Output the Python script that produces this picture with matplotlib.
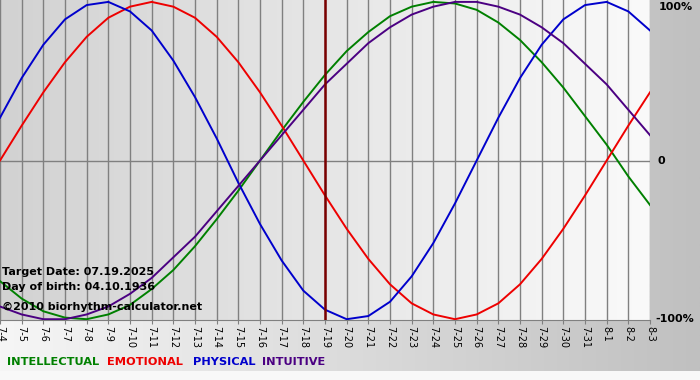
import numpy as np
import matplotlib
matplotlib.use('Agg')
import matplotlib.pyplot as plt
from matplotlib.colors import LinearSegmentedColormap
from matplotlib.patches import Rectangle

# days shown on the chart (7-4 .. 8-3)
dates = ['7-4', '7-5', '7-6', '7-7', '7-8', '7-9', '7-10', '7-11', '7-12', '7-13',
         '7-14', '7-15', '7-16', '7-17', '7-18', '7-19', '7-20', '7-21', '7-22', '7-23',
         '7-24', '7-25', '7-26', '7-27', '7-28', '7-29', '7-30', '7-31', '8-1', '8-2', '8-3']
target = '7-19'

# daily values (-1 .. 1)
physical = [0.27, 0.52, 0.73, 0.89, 0.98, 1.00, 0.94, 0.82, 0.63, 0.40, 0.14,
            -0.14, -0.40, -0.63, -0.82, -0.94, -1.00, -0.98, -0.89, -0.73, -0.52,
            -0.27, 0.00, 0.27, 0.52, 0.73, 0.89, 0.98, 1.00, 0.94, 0.82]
emotional = [0.00, 0.22, 0.43, 0.62, 0.78, 0.90, 0.97, 1.00, 0.97, 0.90, 0.78,
             0.62, 0.43, 0.22, 0.00, -0.22, -0.43, -0.62, -0.78, -0.90, -0.97,
             -1.00, -0.97, -0.90, -0.78, -0.62, -0.43, -0.22, 0.00, 0.22, 0.43]
intellectual = [-0.76, -0.87, -0.95, -0.99, -1.00, -0.97, -0.91, -0.81, -0.69, -0.54, -0.37,
                -0.19, 0.00, 0.19, 0.37, 0.54, 0.69, 0.81, 0.91, 0.97, 1.00,
                0.99, 0.95, 0.87, 0.76, 0.62, 0.46, 0.28, 0.10, -0.10, -0.28]
intuitive = [-0.92, -0.97, -1.00, -1.00, -0.97, -0.92, -0.84, -0.74, -0.61, -0.48, -0.32,
             -0.16, 0.00, 0.16, 0.32, 0.48, 0.61, 0.74, 0.84, 0.92, 0.97,
             1.00, 1.00, 0.97, 0.92, 0.84, 0.74, 0.61, 0.48, 0.32, 0.16]

legend_names = ['INTELLECTUAL', 'EMOTIONAL', 'PHYSICAL', 'INTUITIVE']
colors = ['#008000', '#ee0000', '#0000cc', '#4b0082']
series = [intellectual, emotional, physical, intuitive]

W, H = 700, 380
fig = plt.figure(figsize=(W / 100, H / 100), dpi=100)

# figure background: light on the left, grey on the right, white strip at bottom
bg = fig.add_axes([0, 0, 1, 1], zorder=-10)
bg_cmap = LinearSegmentedColormap.from_list('bg', ['#f6f6f6', '#c0c0c0'])
bg.imshow(np.linspace(0, 1, 256)[None, :], cmap=bg_cmap, aspect='auto',
          extent=[0, 1, 0, 1])
bg.add_patch(Rectangle((0, 0), 1, 9 / H, color='#f8f8f8', lw=0))
bg.set_xlim(0, 1)
bg.set_ylim(0, 1)
bg.axis('off')

x = np.arange(len(dates))
ax = fig.add_axes([0, 60 / H, 650 / W, 320 / H])
ax.patch.set_alpha(0)
plot_cmap = LinearSegmentedColormap.from_list('pl', ['#d2d2d2', '#fafafa'])
ax.imshow(np.linspace(0, 1, 256)[None, :], cmap=plot_cmap, aspect='auto',
          extent=[0, len(dates) - 1, -1.005, 1.012], zorder=0)

for xi in x:
    ax.axvline(xi, color='#808080', lw=1.0, zorder=1)
ax.axhline(0, color='#808080', lw=1.0, zorder=1)

for vals, c in zip(series, colors):
    ax.plot(x, vals, color=c, lw=1.4, zorder=3, solid_joinstyle='round')

ax.axvline(dates.index(target), color='#7a0000', lw=1.8, zorder=4)

ax.set_xlim(0, len(dates) - 1)
ax.set_ylim(-1.005, 1.012)
ax.set_xticks(x)
ax.set_xticklabels(dates, rotation=270, fontsize=7, ha='center', va='top')
ax.tick_params(axis='x', length=3, color='#808080', pad=1.5)
ax.set_yticks([])
for s in ['top', 'left', 'right']:
    ax.spines[s].set_visible(False)
ax.spines['bottom'].set_color('#808080')

# right-hand percentage labels
ytr = ax.get_yaxis_transform()
ax.text(1.013, 1, '100%', transform=ytr, fontsize=8, fontweight='bold',
        ha='left', va='top', clip_on=False)
ax.text(1.012, 0, '0', transform=ytr, fontsize=8, fontweight='bold',
        ha='left', va='center', clip_on=False)
ax.text(1.008, -1, '-100%', transform=ytr, fontsize=8, fontweight='bold',
        ha='left', va='center', clip_on=False)

# info text in the lower left
info = ['Target Date: 07.19.2025', 'Day of birth: 04.10.1936']
for i, t in enumerate(info):
    fig.text(2 / W, 1 - (272 + 15 * i) / H, t, fontsize=8, fontweight='bold',
             ha='left', va='center', zorder=5)
fig.text(2 / W, 1 - 307 / H, '\u00a92010 biorhythm-calculator.net', fontsize=8,
         fontweight='bold', ha='left', va='center', zorder=5)

# legend as coloured words
legend_x = [7, 107, 193, 262]
for name, c, lx in zip(legend_names, colors, legend_x):
    fig.text(lx / W, 1 - 362 / H, name, color=c, fontsize=8.2, fontweight='bold',
             ha='left', va='center')

fig.savefig('out.png', dpi=100)
